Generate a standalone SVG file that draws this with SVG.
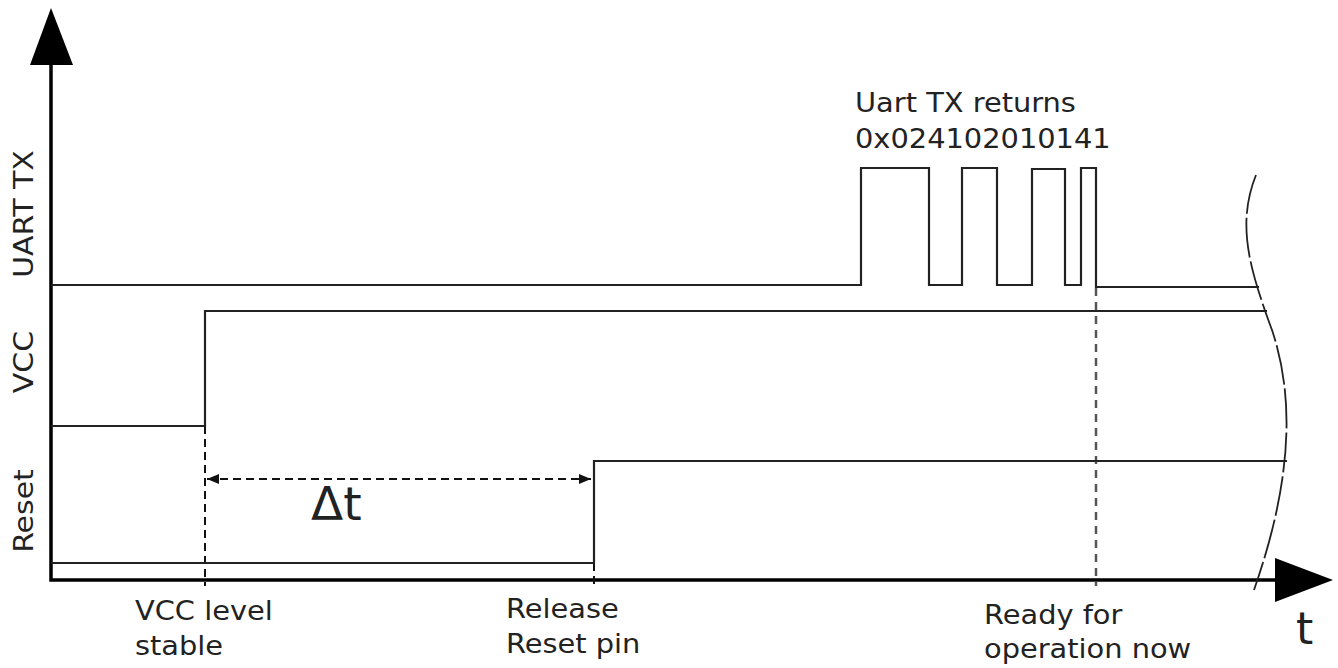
<svg xmlns="http://www.w3.org/2000/svg" width="1338" height="668" viewBox="0 0 1338 668">
<style>
.sig{fill:none;stroke:#222;stroke-width:2.2}
.axis{fill:none;stroke:#000;stroke-width:3.5}
.guide{fill:none;stroke:#111;stroke-width:2;stroke-dasharray:8 5}
.guide2{fill:none;stroke:#555;stroke-width:2.5;stroke-dasharray:8 6}
.brk{fill:none;stroke:#222;stroke-width:1.8;stroke-dasharray:40 4}
.lbl{font-family:"DejaVu Sans","Liberation Sans",sans-serif;font-size:26px;fill:#222}
.rl{font-size:27px}
</style>
<defs>
<marker id="ah" viewBox="0 0 12 10" refX="12" refY="5" markerWidth="12" markerHeight="10" markerUnits="userSpaceOnUse" orient="auto-start-reverse">
<path d="M0,0 L12,5 L0,10 Z" fill="#111"/>
</marker>
</defs>
<rect width="1338" height="668" fill="#fff"/>
<g id="axes">
<path class="axis" d="M51,60 V580 H1280"/>
<path d="M51,8 L30,65 L73,65 Z" fill="#000"/>
<path d="M1333,580 L1275,558 L1275,602 Z" fill="#000"/>
</g>
<g id="connectors">
<path class="guide" d="M205,426 V586"/>
<path class="guide" d="M594,563 V586"/>
<path class="guide2" d="M1096,288 V586"/>
<path class="guide" d="M207,479 H591" stroke="#444" marker-start="url(#ah)" marker-end="url(#ah)"/>
<path class="brk" d="M1256,175 C1236,225 1250,270 1272,330 C1292,390 1296,470 1254,590"/>
</g>
<g id="uart-signal">
<path class="sig" d="M51,285 H861 V168 H929 V285 H962 V168 H997 V285 H1032 V169 H1065 V285 H1081 V168 H1096 V287 H1259"/>
</g>
<g id="vcc-signal">
<path class="sig" d="M51,426 H205 V311 H1267"/>
</g>
<g id="reset-signal">
<path class="sig" d="M51,563 H594 V461 H1287"/>
</g>
<g id="axis-labels">
<text class="lbl rl" transform="translate(33,214) rotate(-90) scale(1.11,1)" text-anchor="middle">UART TX</text>
<text class="lbl rl" transform="translate(33,362) rotate(-90) scale(1.11,1)" text-anchor="middle">VCC</text>
<text class="lbl rl" transform="translate(33,511) rotate(-90) scale(1.11,1)" text-anchor="middle">Reset</text>
<text class="lbl" x="1296" y="644" style="font-size:44px">t</text>
</g>
<g id="event-labels">
<text class="lbl" transform="translate(135,620) scale(1.11,1)">VCC level</text>
<text class="lbl" transform="translate(135,655) scale(1.11,1)">stable</text>
<text class="lbl" transform="translate(506,618) scale(1.11,1)">Release</text>
<text class="lbl" transform="translate(506,653) scale(1.11,1)">Reset pin</text>
<text class="lbl" transform="translate(984,624) scale(1.11,1)">Ready for</text>
<text class="lbl" transform="translate(984,658) scale(1.11,1)">operation now</text>
<text class="lbl" transform="translate(855,112) scale(1.11,1)">Uart TX returns</text>
<text class="lbl" transform="translate(855,148) scale(1.11,1)">0x024102010141</text>
<text class="lbl" x="311" y="520" style="font-size:47px">Δt</text>
</g>
</svg>
